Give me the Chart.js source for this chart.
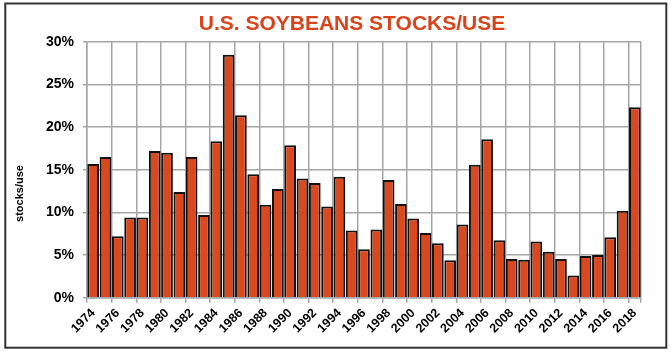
<!DOCTYPE html>
<html>
<head>
<meta charset="utf-8">
<script src="https://cdn.jsdelivr.net/npm/chart.js@4"></script>
<style>
  html, body { margin: 0; padding: 0; background: #fff; }
  #wrap { position: relative; width: 671px; height: 352px; }
</style>
</head>
<body>
<div id="wrap"><canvas id="myChart"></canvas></div>
<script>
const years = [];
for (let y = 1974; y <= 2018; y++) years.push(String(y));

// stocks/use ratio, percent
const stocksUse = [
    15.7, 16.5, 7.2, 9.4, 9.4, 17.2, 17.0, 12.4, 16.5, 9.7,
    18.35, 28.5, 21.4, 14.5, 10.9, 12.75, 17.9, 14.0, 13.45, 10.7,
    14.2, 7.9, 5.7, 8.0, 13.8, 11.0, 9.3, 7.6, 6.4, 4.4,
    8.6, 15.6, 18.6, 6.75, 4.55, 4.45, 6.6, 5.4, 4.55, 2.6,
    4.9, 5.0, 7.1, 10.2, 22.35
];

const yTicks = [0, 5, 10, 15, 20, 25, 30];

const chartTitle = 'U.S. SOYBEANS STOCKS/USE';
const yTitle = 'stocks/use';

const FONT = 'Liberation Sans, Arial, sans-serif';
const GRID = '#a6a6a6';

// titles and frame drawn by hand so they land where the original has them
const decorPlugin = {
    id: 'decor',
    afterDraw(chart) {
        const ctx = chart.ctx;
        ctx.save();
        ctx.strokeStyle = '#333';
        ctx.lineWidth = 2;
        ctx.strokeRect(5.3, 3.5, 661, 344.2);

        ctx.fillStyle = '#d8431b';
        ctx.font = 'bold 21px ' + FONT;
        ctx.textAlign = 'center';
        ctx.textBaseline = 'alphabetic';
        ctx.fillText(chartTitle, 352, 30);

        ctx.fillStyle = '#000';
        ctx.font = 'bold 11px ' + FONT;
        ctx.translate(19.5, 193.5);
        ctx.rotate(-Math.PI / 2);
        ctx.textBaseline = 'middle';
        ctx.fillText(yTitle, 0, 0);
        ctx.restore();
    }
};

const ctx = document.getElementById('myChart').getContext('2d');
window.myChart = new Chart(ctx, {
    type: 'bar',
    data: {
        labels: years,
        datasets: [{
            label: 'stocks/use',
            data: stocksUse,
            backgroundColor: '#da491e',
            borderColor: '#111',
            borderWidth: 2,
            barPercentage: 0.95,
            categoryPercentage: 1.0
        }]
    },
    options: {
        responsive: true,
        maintainAspectRatio: false,
        animation: false,
        layout: {
            padding: { left: 37, right: 30, top: 42, bottom: 13 }
        },
        plugins: {
            legend: { display: false },
            title: { display: false },
            tooltip: { enabled: false }
        },
        scales: {
            x: {
                offset: true,
                grid: {
                    offset: true,
                    color: c => (c.index === undefined || c.index % 2 === 0) ? GRID : 'rgba(0,0,0,0)',
                    lineWidth: 1.5,
                    tickLength: 5
                },
                border: { color: GRID, width: 1.5 },
                ticks: {
                    autoSkip: false,
                    maxRotation: 45,
                    minRotation: 45,
                    padding: 3,
                    color: '#000',
                    font: { family: FONT, size: 12.5, weight: 'bold' },
                    callback: function(val, i) {
                        return i % 2 === 0 ? years[i] : '';
                    }
                }
            },
            y: {
                min: yTicks[0],
                max: yTicks[yTicks.length - 1],
                grid: {
                    color: GRID,
                    lineWidth: 1.5,
                    tickLength: 4
                },
                border: { color: GRID, width: 1.5 },
                afterBuildTicks: axis => {
                    axis.ticks = yTicks.map(v => ({ value: v }));
                },
                ticks: {
                    padding: 9,
                    color: '#000',
                    font: { family: FONT, size: 14, weight: 'bold' },
                    callback: v => v + '%'
                }
            }
        }
    },
    plugins: [decorPlugin]
});
</script>
</body>
</html>
